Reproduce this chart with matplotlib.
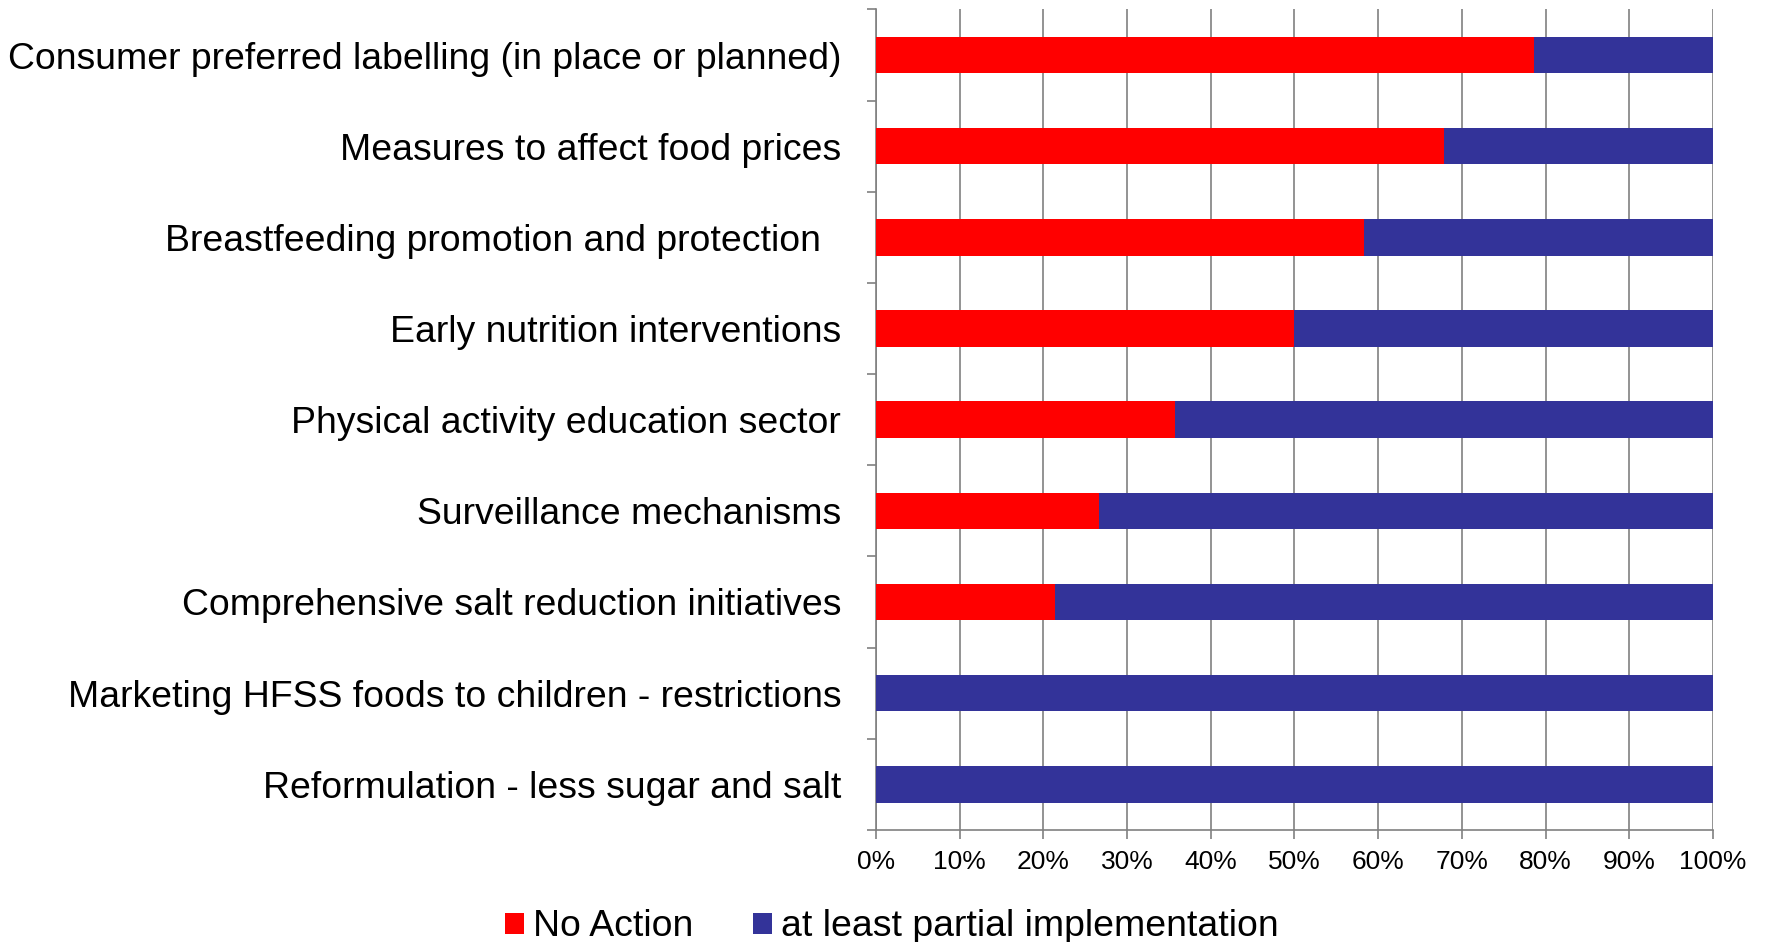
import matplotlib

matplotlib.use("Agg")
import matplotlib.pyplot as plt
from matplotlib.ticker import FixedLocator, PercentFormatter

plt.rcParams["font.family"] = ["Liberation Sans", "DejaVu Sans"]

categories = [
    "Consumer preferred labelling (in place or planned)",
    "Measures to affect food prices",
    "Breastfeeding promotion and protection  ",
    "Early nutrition interventions",
    "Physical activity education sector",
    "Surveillance mechanisms",
    "Comprehensive salt reduction initiatives",
    "Marketing HFSS foods to children - restrictions",
    "Reformulation - less sugar and salt",
]
no_action = [78.6, 67.9, 58.3, 50.0, 35.7, 26.7, 21.4, 0.0, 0.0]
partial = [100 - v for v in no_action]

RED = "#FF0000"
BLUE = "#333399"
GRID = "#808080"

fig = plt.figure(figsize=(17.66, 9.42), dpi=100)
ax = fig.add_axes([0.496, 0.119, 0.474, 0.871])

y = list(range(len(categories)))
ax.barh(y, no_action, height=0.4, color=RED, label="No Action", zorder=3)
ax.barh(y, partial, left=no_action, height=0.4, color=BLUE,
        label="at least partial implementation", zorder=3)

ax.set_xlim(0, 100)
ax.set_ylim(len(categories) - 0.5, -0.5)
ax.set_xticks(range(0, 101, 10))
ax.xaxis.set_major_formatter(PercentFormatter(decimals=0))
ax.grid(axis="x", color=GRID, linewidth=1.2, zorder=0)

ax.set_yticks(y)
ax.set_yticklabels(categories, fontsize=26.9)
ax.yaxis.set_minor_locator(FixedLocator([i - 0.5 for i in range(len(categories) + 1)]))
ax.tick_params(axis="y", which="major", length=0, pad=25)
ax.tick_params(axis="y", which="minor", length=6.5, width=1.2, color=GRID, direction="out")
ax.tick_params(axis="x", which="major", length=6.5, width=1.2, color=GRID,
               direction="out", labelsize=19, pad=8)

for side in ["top", "right"]:
    ax.spines[side].set_visible(False)
for side in ["left", "bottom"]:
    ax.spines[side].set_color(GRID)
    ax.spines[side].set_linewidth(1.2)

handles, labels = ax.get_legend_handles_labels()
fig.legend(handles, labels, loc="center", bbox_to_anchor=(0.505, 0.016), ncol=2,
           frameon=False, fontsize=26.9, handlelength=0.5, handleheight=0.5,
           handletextpad=0.25, columnspacing=1.6, borderpad=0)

fig.savefig("out.png", dpi=100)
